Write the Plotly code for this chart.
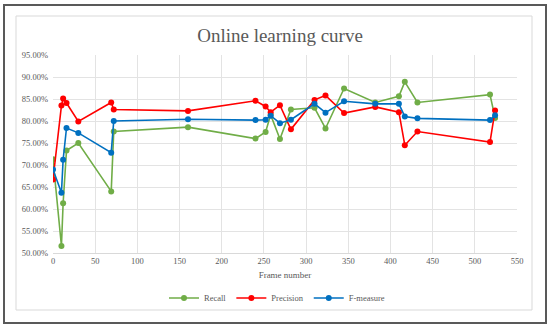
import plotly.graph_objects as go

frames = [0, 10, 12, 16, 30, 69, 72, 160, 240, 252, 258, 269, 282, 310, 323, 345, 382, 410, 417, 432, 518, 524]
recall = [71.3, 51.6, 61.3, 73.3, 75.0, 64.0, 77.6, 78.6, 76.0, 77.5, 81.4, 75.9, 82.6, 83.0, 78.3, 87.4, 84.2, 85.6, 88.9, 84.2, 86.0, 80.7]
precision = [66.7, 83.5, 85.1, 84.1, 79.9, 84.2, 82.6, 82.3, 84.6, 83.3, 82.0, 83.6, 78.1, 84.8, 85.8, 81.8, 83.2, 82.0, 74.5, 77.6, 75.2, 82.4]
fmeasure = [69.0, 63.7, 71.2, 78.4, 77.3, 72.8, 80.0, 80.4, 80.2, 80.3, 81.2, 79.5, 80.3, 83.9, 81.9, 84.5, 83.9, 83.9, 81.0, 80.6, 80.2, 81.3]

x_ticks = list(range(0, 551, 50))
y_ticks = list(range(50, 96, 5))

series = [("Recall", recall, "#70AD47"), ("Precision", precision, "#FF0000"), ("F-measure", fmeasure, "#0070C0")]

W, H = 550, 330
L, R, T, B = 53, 33, 55, 77
pw, ph = W - L - R, H - T - B

def px(x):
    return (x - L) / pw

def py(y):
    return (H - B - y) / ph

fig = go.Figure()
for name, vals, col in series:
    fig.add_trace(go.Scatter(x=frames, y=vals, mode="lines+markers", name=name,
                             line=dict(color=col, width=1.6),
                             marker=dict(color=col, size=6)))

font = "Liberation Serif"
gray = "#595959"
fig.update_layout(
    width=W, height=H,
    margin=dict(l=L, r=R, t=T, b=B, autoexpand=False),
    paper_bgcolor="white", plot_bgcolor="white",
    title=dict(text="Online learning curve", x=px(280), xref="paper", xanchor="center",
               y=1 - 35 / H, yanchor="middle", font=dict(family=font, size=19, color=gray)),
    xaxis=dict(range=[0, 550], tickvals=x_ticks, showgrid=True, gridcolor="#E3E3E3", gridwidth=1,
               zeroline=False, showline=True, linecolor="#D9D9D9",
               tickfont=dict(family=font, size=8.5, color=gray),
               title=dict(text="Frame number", font=dict(family=font, size=9, color=gray), standoff=6)),
    yaxis=dict(range=[50, 95], tickvals=y_ticks, ticktext=[f"{v:.2f}%" for v in y_ticks],
               showgrid=True, gridcolor="#E3E3E3", gridwidth=1, zeroline=False,
               tickfont=dict(family=font, size=8.5, color=gray), ticklabelstandoff=4),
    legend=dict(orientation="h", x=px(277), xanchor="center", y=py(298), yanchor="middle",
                font=dict(family=font, size=8.5, color=gray), bgcolor="rgba(0,0,0,0)"),
    showlegend=True,
    shapes=[
        dict(type="rect", xref="paper", yref="paper", x0=px(16), x1=px(532), y0=py(310), y1=py(16),
             line=dict(color="#D9D9D9", width=1), layer="below"),
        dict(type="rect", xref="paper", yref="paper", x0=px(4), x1=px(546), y0=py(323), y1=py(5),
             line=dict(color="#595959", width=2), layer="below"),
    ],
)

fig.write_html("out.html", config={"displayModeBar": False},
               post_script="document.body.style.margin='0px';")
